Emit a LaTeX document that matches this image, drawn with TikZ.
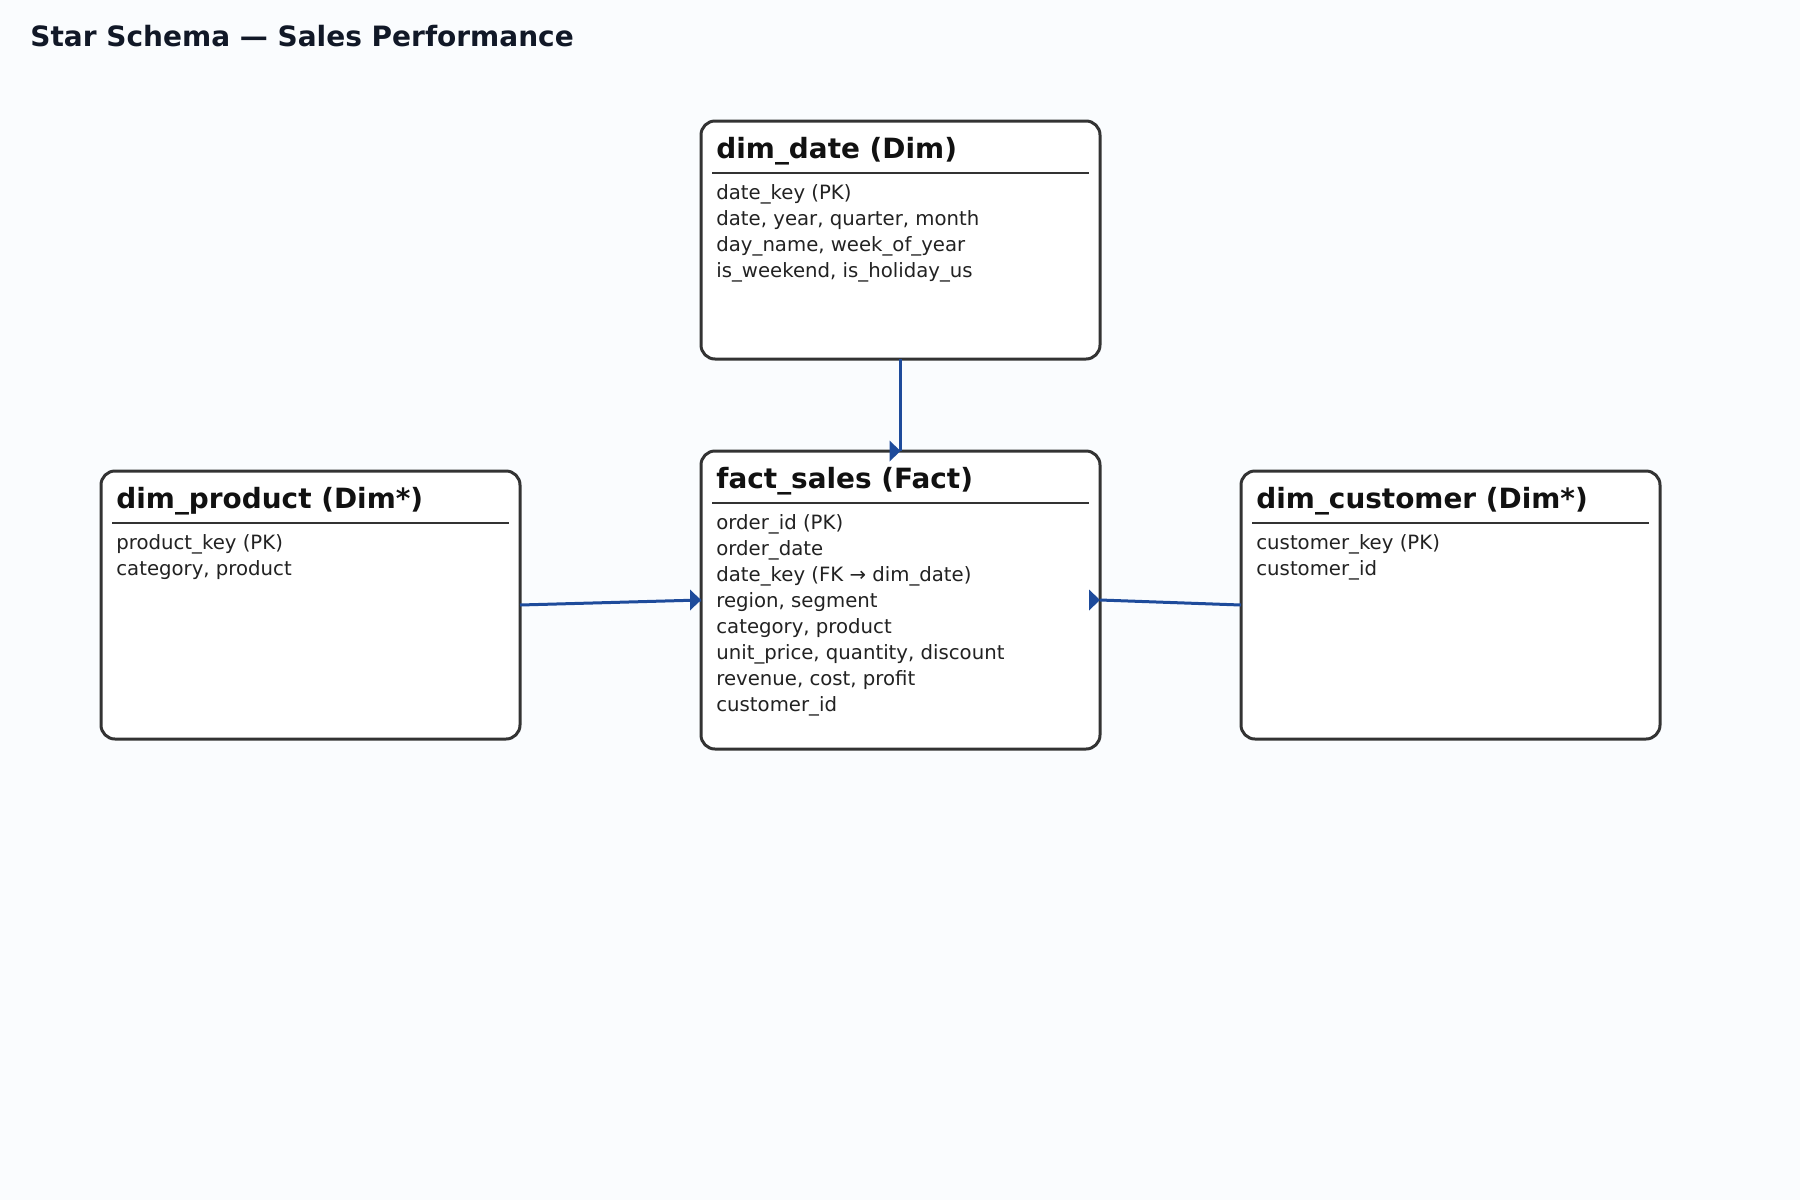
\documentclass[tikz,border=0pt]{standalone}
\usepackage{fontspec}
\setmainfont{DejaVu Sans}
\definecolor{bg}{HTML}{FAFCFE}
\definecolor{boxline}{HTML}{333333}
\definecolor{titlecol}{HTML}{111827}
\definecolor{headcol}{HTML}{111111}
\definecolor{bodycol}{HTML}{222222}
\definecolor{linkblue}{HTML}{1E4B9B}
\tikzset{
  tablebox/.style={draw=boxline, line width=1.5pt, fill=white, rounded corners=7pt, anchor=north west, inner sep=0pt, outer sep=0pt, minimum width=199.5pt},
  titletext/.style={anchor=base west, inner sep=0pt, text=titlecol, font=\fontsize{14pt}{17pt}\selectfont\bfseries},
  headtext/.style={anchor=base west, inner sep=0pt, text=headcol, font=\fontsize{13.95pt}{16pt}\selectfont\bfseries},
  fieldtext/.style={anchor=base west, inner sep=0pt, text=bodycol, font=\fontsize{9.85pt}{12pt}\selectfont},
  sepline/.style={draw=boxline, line width=0.9pt},
  link/.style={draw=linkblue, line width=1.5pt},
  headtri/.style={fill=linkblue},
}
\begin{document}
\begin{tikzpicture}[x=0.5pt, y=-0.5pt]
\fill[bg] (0,0) rectangle (1800,1200);
\useasboundingbox (0,0) rectangle (1800,1200);

\node[titletext] (title) at (30,46) {Star Schema — Sales Performance};

% boxes
\node[tablebox, minimum height=119pt] (dimd) at (701,121) {};
\node[tablebox, minimum height=149pt] (fact) at (701,451) {};
\node[tablebox, minimum width=209.5pt, minimum height=134pt] (dimp) at (101,471) {};
\node[tablebox, minimum width=209.5pt, minimum height=134pt] (dimc) at (1241,471) {};

% dim_date
\node[headtext] (dimdh) at (716,158) {dim\_date (Dim)};
\draw[sepline] (712,173) -- (1089,173);
\foreach \t [count=\i] in {{date\_key (PK)},{date, year, quarter, month},{day\_name, week\_of\_year},{is\_weekend, is\_holiday\_us}}
  \node[fieldtext] (dimdf\i) at (716,{199+26*(\i-1)}) {\t};

% fact_sales
\node[headtext] (facth) at (716,488) {fact\_sales (Fact)};
\draw[sepline] (712,503) -- (1089,503);
\foreach \t [count=\i] in {{order\_id (PK)},{order\_date},{date\_key (FK → dim\_date)},{region, segment},{category, product},{unit\_price, quantity, discount},{revenue, cost, profit},{customer\_id}}
  \node[fieldtext] (factf\i) at (716,{529+26*(\i-1)}) {\t};

% dim_product
\node[headtext] (dimph) at (116,508) {dim\_product (Dim*)};
\draw[sepline] (112,523) -- (509,523);
\foreach \t [count=\i] in {{product\_key (PK)},{category, product}}
  \node[fieldtext] (dimpf\i) at (116,{549+26*(\i-1)}) {\t};

% dim_customer
\node[headtext] (dimch) at (1256,508) {dim\_customer (Dim*)};
\draw[sepline] (1252,523) -- (1649,523);
\foreach \t [count=\i] in {{customer\_key (PK)},{customer\_id}}
  \node[fieldtext] (dimcf\i) at (1256,{549+26*(\i-1)}) {\t};

% connectors
\draw[link] (dimd.south) -- (fact.north);
\draw[link] (dimp.east) -- (fact.west);
\draw[link] (dimc.west) -- (fact.east);

% arrow heads (all drawn pointing right, as in the reference)
\fill[headtri] (fact.north) -- ++(-11,-10.5) -- ++(0,21) -- cycle;
\fill[headtri] (fact.west) -- ++(-11,-10.5) -- ++(0,21) -- cycle;
\fill[headtri] (fact.east) -- ++(-11,-10.5) -- ++(0,21) -- cycle;
\end{tikzpicture}
\end{document}
